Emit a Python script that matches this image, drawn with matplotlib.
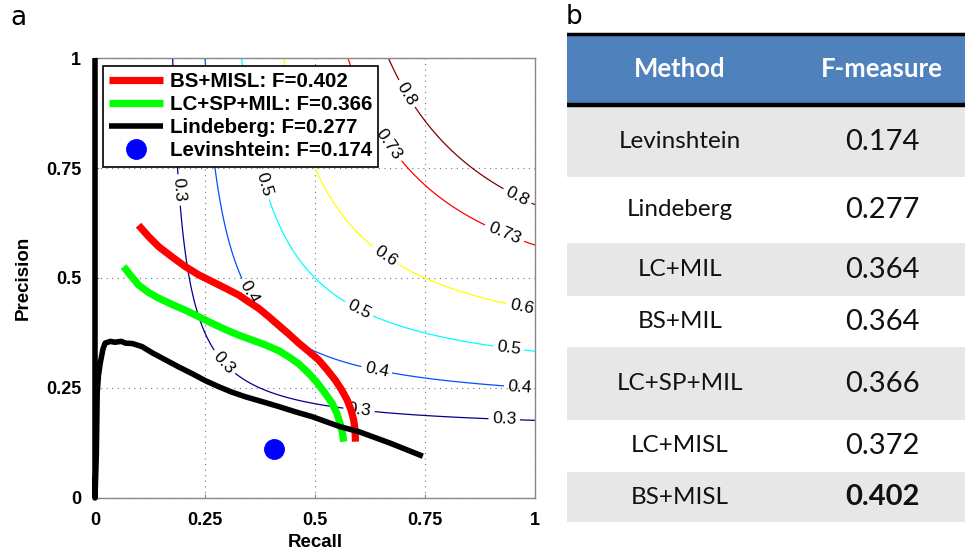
import numpy as np
import matplotlib.pyplot as plt

# ---- data ----
bs_misl_recall = [0.099, 0.122, 0.145, 0.175, 0.205, 0.236, 0.266, 0.296, 0.327, 0.349, 0.372, 0.395, 0.417,
                  0.440, 0.463, 0.486, 0.508, 0.527, 0.546, 0.561, 0.573, 0.582, 0.588, 0.591, 0.592]
bs_misl_prec = [0.620, 0.594, 0.571, 0.548, 0.526, 0.507, 0.492, 0.477, 0.461, 0.446, 0.431, 0.412, 0.393,
                0.373, 0.352, 0.333, 0.314, 0.292, 0.268, 0.245, 0.223, 0.200, 0.177, 0.155, 0.128]

lcsp_recall = [0.065, 0.080, 0.099, 0.122, 0.145, 0.175, 0.205, 0.236, 0.266, 0.296, 0.327, 0.357, 0.387,
               0.417, 0.440, 0.463, 0.486, 0.505, 0.523, 0.539, 0.550, 0.558, 0.563, 0.565]
lcsp_prec = [0.526, 0.507, 0.484, 0.467, 0.454, 0.440, 0.427, 0.412, 0.397, 0.383, 0.370, 0.359, 0.348,
             0.335, 0.321, 0.305, 0.283, 0.262, 0.238, 0.215, 0.192, 0.166, 0.145, 0.128]

lind_recall = [0.0, 0.0, 0.003, 0.005, 0.008, 0.012, 0.018, 0.023, 0.035, 0.045, 0.060, 0.069, 0.085, 0.107,
               0.13, 0.16, 0.19, 0.22, 0.25, 0.281, 0.31, 0.342, 0.38, 0.417, 0.455, 0.493, 0.557, 0.599, 0.67, 0.745]
lind_prec = [1.0, 0.0, 0.10, 0.24, 0.28, 0.307, 0.338, 0.352, 0.356, 0.354, 0.356, 0.352, 0.351, 0.344,
             0.330, 0.314, 0.298, 0.283, 0.267, 0.253, 0.241, 0.230, 0.219, 0.208, 0.196, 0.185, 0.162, 0.151, 0.125, 0.095]

lev_recall = [0.406]
lev_prec = [0.111]

legend_labels = ["BS+MISL: F=0.402", "LC+SP+MIL: F=0.366", "Lindeberg: F=0.277", "Levinshtein: F=0.174"]

iso_levels = [0.3, 0.4, 0.5, 0.6, 0.73, 0.8]
iso_colors = ["#00008c", "#0050ff", "#00ffff", "#ffff00", "#ff0000", "#800000"]

ticks = [0, 0.25, 0.5, 0.75, 1]
tick_labels = ["0", "0.25", "0.5", "0.75", "1"]

methods = ["Levinshtein", "Lindeberg", "LC+MIL", "BS+MIL", "LC+SP+MIL", "LC+MISL", "BS+MISL"]
fmeasure = ["0.174", "0.277", "0.364", "0.364", "0.366", "0.372", "0.402"]

fig = plt.figure(figsize=(9.65, 5.51), dpi=100)
W, H = 965, 551

# ---- panel a: PR curves with iso-F contours ----
ax = fig.add_axes([95 / W, (H - 498) / H, 440 / W, 440 / H])
font = "Liberation Sans"

r = np.linspace(0.001, 1, 500)
R, P = np.meshgrid(r, r)
F = 2 * P * R / (P + R)
cs = ax.contour(R, P, F, levels=iso_levels, colors=iso_colors, linewidths=0.9, zorder=2)
label_pos = [(0.19, 0.70), (0.295, 0.31), (0.60, 0.20), (0.93, 0.18),
             (0.35, 0.467), (0.64, 0.29), (0.965, 0.252),
             (0.385, 0.713), (0.60, 0.43), (0.94, 0.34),
             (0.66, 0.55), (0.97, 0.434),
             (0.668, 0.805), (0.93, 0.60),
             (0.71, 0.92), (0.96, 0.686)]
lbls = ax.clabel(cs, fmt="%g", manual=label_pos, inline=True, inline_spacing=2, fontsize=12.5, colors="black")
for t in lbls:
    t.set_fontfamily(font)

kw = dict(solid_capstyle="butt", solid_joinstyle="round")
ax.plot(bs_misl_recall, bs_misl_prec, color="#ff0000", lw=5.2, zorder=4, label=legend_labels[0], **kw)
ax.plot(lcsp_recall, lcsp_prec, color="#00ff00", lw=5.2, zorder=4, label=legend_labels[1], **kw)
ax.plot(lind_recall, lind_prec, color="black", lw=4.0, zorder=5, label=legend_labels[2], clip_on=False, **kw)
ax.plot(lev_recall, lev_prec, "o", color="#0000ff", ms=14, zorder=5, label=legend_labels[3])

ax.set_xlim(0, 1)
ax.set_ylim(0, 1)
ax.set_xticks(ticks)
ax.set_yticks(ticks)
ax.set_xticklabels(tick_labels, fontfamily=font, fontweight="bold", fontsize=13)
ax.set_yticklabels(tick_labels, fontfamily=font, fontweight="bold", fontsize=13)
ax.tick_params(direction="in", length=3, color="#888888", pad=10)
ax.grid(True, linestyle=(0, (1, 4)), color="#777777", lw=0.8)
for s in ax.spines.values():
    s.set_color("#888888")
    s.set_linewidth(1)
ax.set_xlabel("Recall", fontfamily=font, fontweight="bold", fontsize=13.5, labelpad=4)
ax.set_ylabel("Precision", fontfamily=font, fontweight="bold", fontsize=13.5, labelpad=10)

leg = ax.legend(loc="upper left", bbox_to_anchor=(0.018, 0.982), borderaxespad=0,
                fancybox=False, framealpha=1, edgecolor="black", handlelength=2.6,
                handletextpad=0.35, labelspacing=0.2, borderpad=0.3,
                prop={"family": font, "weight": "bold", "size": 14.8})
leg.get_frame().set_linewidth(1.2)
leg.set_zorder(10)

fig.text(10 / W, 1 - 25 / H, "a", fontsize=19, fontfamily="DejaVu Sans", va="baseline")
fig.text(566 / W, 1 - 24 / H, "b", fontsize=19, fontfamily="DejaVu Sans", va="baseline")

# ---- panel b: table ----
tx0, tx1 = 567, 965
tab = fig.add_axes([tx0 / W, 0, (tx1 - tx0) / W, 1])
tab.set_xlim(tx0, tx1)
tab.set_ylim(H, 0)
tab.axis("off")

tab.axhspan(33, 105, color="#4f81bd", lw=0)
tab.axhline(33.5, color="black", lw=2.5)
tab.axhline(105, color="black", lw=3.2)
row_edges = [107, 177, 243, 296, 347, 420, 472, 522]
for i, m in enumerate(methods):
    y0, y1 = row_edges[i], row_edges[i + 1]
    if i % 2 == 0:
        tab.axhspan(y0, y1, color="#e7e7e7", lw=0)
    yc = (y0 + y1) / 2
    tab.text(680, yc, m, ha="center", va="center", fontsize=17.5, fontfamily="Lato", color="#111111")
    tab.text(882, yc, fmeasure[i], ha="center", va="center", fontsize=21, fontfamily="Lato",
             fontweight="bold" if i == len(methods) - 1 else "normal", color="#111111")
tab.text(680, 69, "Method", ha="center", va="center", fontsize=18.5, fontfamily="Lato", fontweight="bold", color="white")
tab.text(882, 69, "F-measure", ha="center", va="center", fontsize=18.5, fontfamily="Lato", fontweight="bold", color="white")

fig.savefig("out.png", dpi=100)
